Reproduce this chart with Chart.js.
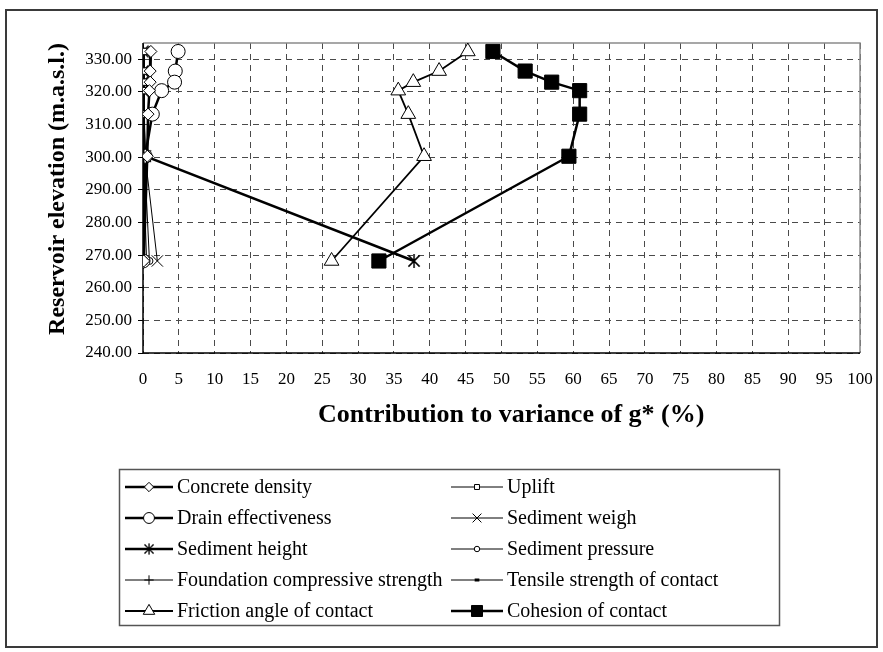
<!DOCTYPE html>
<html>
<head>
<meta charset="utf-8">
<script src="https://cdn.jsdelivr.net/npm/chart.js@4.4.0/dist/chart.umd.min.js"></script>
<style>
  html, body { margin: 0; padding: 0; background: #fff; }
  #wrap { width: 883px; height: 652px; }
</style>
</head>
<body>
<div id="wrap"><canvas id="varianceChart" width="883" height="652"></canvas></div>
<script>
// Reservoir elevations (m.a.s.l.) where the contributions were evaluated
const elevations = [332.4, 326.4, 323.0, 320.4, 313.2, 300.3, 268.2];

// Contribution to variance of g* (%) for each variable, same order as elevations
const concreteDensity    = [1.1, 1.0, 1.0, 0.9, 0.7, 0.6, 0.1];
const uplift             = [0.1, 0.1, 0.1, 0.1, 0.1, 0.1, 0.1];
const drainEffectiveness = [4.9, 4.5, 4.4, 2.6, 1.3, 0.3, 0.0];
const sedimentWeigh      = [0.2, 0.2, 0.2, 0.2, 0.2, 0.3, 2.0];
const sedimentHeight     = [0.0, 0.0, 0.0, 0.0, 0.0, 0.3, 37.8];
const sedimentPressure   = [0.1, 0.1, 0.1, 0.1, 0.1, 0.2, 0.9];
const foundationStrength = [0.0, 0.0, 0.0, 0.0, 0.0, 0.1, 0.5];
const tensileStrength    = [0.0, 0.0, 0.0, 0.0, 0.0, 0.0, 0.0];
const frictionAngle      = [45.3, 41.3, 37.7, 35.6, 37.0, 39.2, 26.3];
const cohesion           = [48.8, 53.3, 57.0, 60.9, 60.9, 59.4, 32.9];

const seriesLabels = [
    'Concrete density', 'Uplift',
    'Drain effectiveness', 'Sediment weigh',
    'Sediment height', 'Sediment pressure',
    'Foundation compressive strength', 'Tensile strength of contact',
    'Friction angle of contact', 'Cohesion of contact'
];

// Axis ticks
const xTickValues = [0, 5, 10, 15, 20, 25, 30, 35, 40, 45, 50, 55, 60, 65, 70, 75, 80, 85, 90, 95, 100];
const yTickValues = [240, 250, 260, 270, 280, 290, 300, 310, 320, 330];

const FONT = "'Liberation Serif', 'DejaVu Serif', serif";

// asterisk marker (X with a vertical bar) like the spreadsheet one
function makeAsterisk(size, lw) {
    const c = document.createElement('canvas');
    c.width = size; c.height = size;
    const g = c.getContext('2d');
    const m = size / 2, r = size / 2 - 1;
    g.strokeStyle = '#000';
    g.lineWidth = lw;
    g.beginPath();
    g.moveTo(m - r * 0.8, m - r * 0.8); g.lineTo(m + r * 0.8, m + r * 0.8);
    g.moveTo(m + r * 0.8, m - r * 0.8); g.lineTo(m - r * 0.8, m + r * 0.8);
    g.moveTo(m, m - r); g.lineTo(m, m + r);
    g.stroke();
    return c;
}
const asterisk = makeAsterisk(16, 1.5);

function pts(values) {
    return values.map((v, i) => ({ x: v, y: elevations[i] }));
}

function series(label, values, style) {
    return Object.assign({
        label: label,
        data: pts(values),
        showLine: true,
        borderColor: '#000',
        backgroundColor: '#fff',
        pointBorderColor: '#000',
        pointBackgroundColor: '#fff',
        pointBorderWidth: 1,
        borderWidth: 1
    }, style);
}

const datasets = [
    series(seriesLabels[0], concreteDensity, { borderWidth: 2.5, pointStyle: 'rectRot', pointRadius: 6 }),
    series(seriesLabels[1], uplift, { pointStyle: 'rect', pointRadius: 4.5 }),
    series(seriesLabels[2], drainEffectiveness, { borderWidth: 2.5, pointStyle: 'circle', pointRadius: 7 }),
    series(seriesLabels[3], sedimentWeigh, { pointStyle: 'crossRot', pointRadius: 8 }),
    series(seriesLabels[4], sedimentHeight, { borderWidth: 2.5, pointStyle: asterisk, pointRadius: 8 }),
    series(seriesLabels[5], sedimentPressure, { pointStyle: 'circle', pointRadius: 3.5 }),
    series(seriesLabels[6], foundationStrength, { pointStyle: 'cross', pointRadius: 6 }),
    series(seriesLabels[7], tensileStrength, { pointStyle: 'line', pointRadius: 3, pointBorderWidth: 3 }),
    series(seriesLabels[8], frictionAngle, { borderWidth: 1.8, pointStyle: 'triangle', pointRadius: 8.5 }),
    series(seriesLabels[9], cohesion, { borderWidth: 2.5, pointStyle: 'rect', pointRadius: 10,
        pointBackgroundColor: '#000', backgroundColor: '#000' })
];

// draws the outer frame, the plot border and the boxed legend
const decorPlugin = {
    id: 'decor',
    beforeDraw(chart) {
        const ctx = chart.ctx;
        ctx.save();
        ctx.fillStyle = '#fff';
        ctx.fillRect(0, 0, chart.width, chart.height);
        ctx.restore();
    },
    beforeDatasetsDraw(chart) {
        const { ctx, chartArea: a } = chart;
        ctx.save();
        // grey top and right edges
        ctx.strokeStyle = '#8a8a8a';
        ctx.lineWidth = 1.5;
        ctx.beginPath();
        ctx.moveTo(a.left, a.top);
        ctx.lineTo(a.right, a.top);
        ctx.lineTo(a.right, a.bottom);
        ctx.stroke();
        // solid black axes
        ctx.strokeStyle = '#000';
        ctx.beginPath();
        ctx.moveTo(a.left, a.top);
        ctx.lineTo(a.left, a.bottom);
        ctx.lineTo(a.right, a.bottom);
        ctx.stroke();
        ctx.restore();
    },
    afterDraw(chart) {
        const ctx = chart.ctx;
        ctx.save();
        // outer frame
        ctx.strokeStyle = '#3a3a3a';
        ctx.lineWidth = 2;
        ctx.strokeRect(6, 10, 871, 637);

        // legend box
        ctx.strokeStyle = '#555';
        ctx.lineWidth = 1.5;
        ctx.strokeRect(119.5, 469.5, 660, 156);

        const colLine = [[125, 173], [451, 503]];
        const rowY0 = 487, rowStep = 31;
        ctx.font = '20px ' + FONT;
        ctx.textBaseline = 'middle';
        chart.data.datasets.forEach((ds, i) => {
            const col = i % 2, row = Math.floor(i / 2);
            const y = rowY0 + row * rowStep;
            const [x0, x1] = colLine[col];
            const mx = (x0 + x1) / 2;
            ctx.strokeStyle = '#000';
            ctx.lineWidth = ds.borderWidth;
            ctx.beginPath();
            ctx.moveTo(x0, y); ctx.lineTo(x1, y);
            ctx.stroke();
            const r = ds.pointRadius * 0.78;
            if (ds.pointStyle instanceof HTMLCanvasElement) {
                const s = ds.pointStyle.width * 0.8;
                ctx.drawImage(ds.pointStyle, mx - s / 2, y - s / 2, s, s);
            } else {
                ctx.fillStyle = ds.pointBackgroundColor;
                ctx.strokeStyle = '#000';
                ctx.lineWidth = ds.pointBorderWidth;
                Chart.helpers.drawPoint(ctx, {
                    pointStyle: ds.pointStyle, rotation: 0, radius: r, borderWidth: ds.pointBorderWidth
                }, mx, y);
            }
            ctx.fillStyle = '#000';
            ctx.fillText(ds.label, x1 + 4, y + 1);
        });
        ctx.restore();
    }
};

new Chart(document.getElementById('varianceChart'), {
    type: 'scatter',
    data: { datasets: datasets },
    options: {
        responsive: false,
        animation: false,
        layout: { padding: { left: 18, top: 43, right: 23, bottom: 219 } },
        plugins: {
            legend: { display: false },
            tooltip: { enabled: false }
        },
        scales: {
            x: {
                type: 'linear',
                min: 0,
                max: 100,
                afterBuildTicks: s => { s.ticks = xTickValues.map(v => ({ value: v })); },
                afterFit: s => { s.height = 80; s.paddingLeft = 0; s.paddingRight = 0; },
                ticks: {
                    autoSkip: false,
                    maxRotation: 0,
                    padding: 16,
                    color: '#000',
                    font: { family: FONT, size: 17 }
                },
                grid: {
                    color: '#4a4a4a',
                    lineWidth: 1,
                    drawTicks: false
                },
                border: { display: false, dash: [6, 5] },
                title: {
                    display: true,
                    text: '   Contribution to variance of g* (%)',
                    color: '#000',
                    padding: { top: 0, bottom: 2 },
                    font: { family: FONT, size: 26, weight: 'bold' }
                }
            },
            y: {
                type: 'linear',
                min: 240,
                max: 335,
                afterBuildTicks: s => { s.ticks = yTickValues.map(v => ({ value: v })); },
                afterFit: s => { s.width = 125; },
                ticks: {
                    padding: 6,
                    color: '#000',
                    font: { family: FONT, size: 17 },
                    callback: v => v.toFixed(2)
                },
                grid: {
                    color: '#4a4a4a',
                    lineWidth: 1,
                    tickLength: 5,
                    tickColor: '#000',
                    tickBorderDash: []
                },
                border: { display: false, dash: [6, 5] },
                title: {
                    display: true,
                    text: 'Reservoir elevation (m.a.s.l.)',
                    align: 'end',
                    color: '#000',
                    padding: { top: 25, bottom: 0 },
                    font: { family: FONT, size: 24, weight: 'bold' }
                }
            }
        }
    },
    plugins: [decorPlugin]
});
</script>
</body>
</html>
